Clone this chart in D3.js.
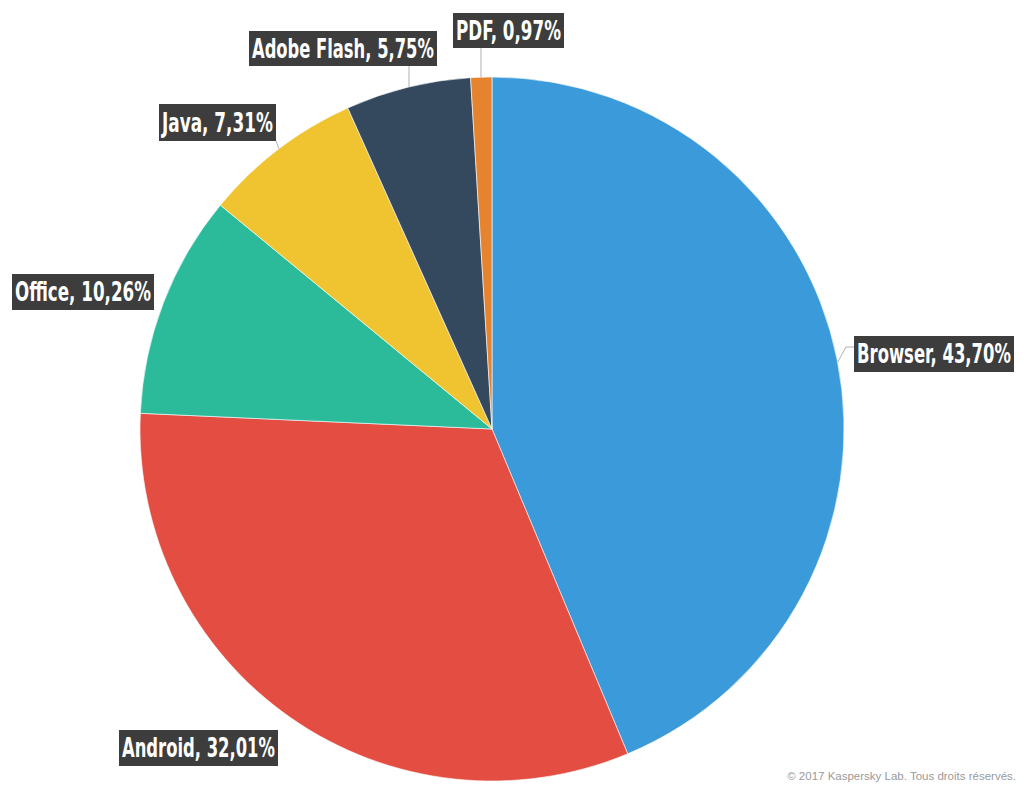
<!DOCTYPE html>
<html>
<head>
<meta charset="utf-8">
<script src="https://cdn.jsdelivr.net/npm/d3@7"></script>
<style>
  body { margin: 0; background: #fff; }
  svg { display: block; }
</style>
</head>
<body>
<div id="chart"></div>
<script>
// slices, clockwise from 12 o'clock
var categories = ["Browser", "Android", "Office", "Java", "Adobe Flash", "PDF"]
var shares = [43.70, 32.01, 10.26, 7.31, 5.75, 0.97]
var shareLabels = ["43,70%", "32,01%", "10,26%", "7,31%", "5,75%", "0,97%"]
var colors = ["#3b9ad9", "#e44d42", "#2bbb9b", "#efc430", "#34495e", "#e6832f"]

// label box placement (layout only)
var boxes = [
    {x: 854, y: 336, w: 160, h: 36},
    {x: 119, y: 730, w: 159, h: 36},
    {x: 12,  y: 274, w: 142, h: 36},
    {x: 159, y: 104, w: 117, h: 37},
    {x: 249, y: 31,  w: 188, h: 35},
    {x: 453, y: 13,  w: 111, h: 35}
]

var width = 1026, height = 791
var cx = 492, cy = 429, radius = 352

var svg = d3.select("#chart").append("svg")
    .attr("width", width)
    .attr("height", height)

var pie = d3.pie().sort(null).value(function(d) { return d })
var arc = d3.arc().innerRadius(0).outerRadius(radius)
var arcs = pie(shares)

var g = svg.append("g").attr("transform", "translate(" + cx + "," + cy + ")")

g.selectAll("path")
    .data(arcs)
    .enter()
    .append("path")
    .attr("d", arc)
    .attr("fill", function(d, i) { return colors[i] })
    .attr("stroke", "#fff")
    .attr("stroke-width", 0.6)

function edge(a) {
    return [cx + radius * Math.sin(a), cy - radius * Math.cos(a)]
}

// connector lines
var lines = svg.append("g")
    .attr("fill", "none")
    .attr("stroke", "#b0b0b0")
    .attr("stroke-width", 1)

// Browser: elbow
var bp = edge(1.38)
lines.append("path").attr("d", "M" + bp[0] + "," + bp[1] + "L" + (boxes[0].x - 8) + "," + (boxes[0].y + 11) + "L" + boxes[0].x + "," + (boxes[0].y + 11))

// Java: short diagonal
var jp = edge(-0.65)
lines.append("path").attr("d", "M" + (boxes[3].x + boxes[3].w) + "," + (boxes[3].y + boxes[3].h) + "L" + jp[0] + "," + jp[1])

// Adobe Flash and PDF: vertical drops to the rim
;[4, 5].forEach(function(i) {
    var lx = i === 4 ? 409 : 481
    var ly = cy - Math.sqrt(radius * radius - (lx - cx) * (lx - cx))
    lines.append("line")
        .attr("x1", lx).attr("x2", lx)
        .attr("y1", boxes[i].y + boxes[i].h)
        .attr("y2", ly)
})

// labels
var lab = svg.selectAll(".lab")
    .data(categories)
    .enter()
    .append("g")
    .attr("class", "lab")
    .attr("transform", function(d, i) { return "translate(" + boxes[i].x + "," + boxes[i].y + ")" })

lab.append("rect")
    .attr("width", function(d, i) { return boxes[i].w })
    .attr("height", function(d, i) { return boxes[i].h })
    .attr("fill", "#3d3d3d")

// squeeze each label horizontally to fit its box (condensed look)
lab.append("text")
    .attr("fill", "#fff")
    .style("font-family", "'Liberation Sans Narrow', 'DejaVu Sans Condensed', sans-serif")
    .style("font-weight", "bold")
    .style("font-size", "27px")
    .text(function(d, i) { return d + ", " + shareLabels[i] })
    .attr("transform", function(d, i) {
        var sx = (boxes[i].w - 6) / this.getComputedTextLength()
        return "translate(3," + (boxes[i].h / 2 + 9) + ") scale(" + sx + ",1)"
    })

svg.append("text")
    .attr("x", 1016)
    .attr("y", 780)
    .attr("text-anchor", "end")
    .attr("fill", "#9a9a9a")
    .style("font-family", "'Liberation Sans', Arial, sans-serif")
    .style("font-size", "11.5px")
    .text("© 2017 Kaspersky Lab. Tous droits réservés.")
</script>
</body>
</html>
